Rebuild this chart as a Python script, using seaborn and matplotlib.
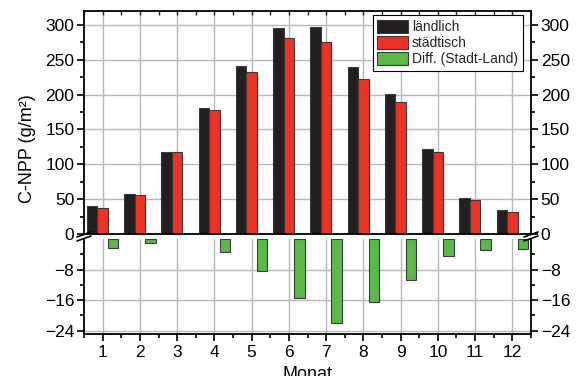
import numpy as np
import pandas as pd
import matplotlib
matplotlib.use("Agg")
import matplotlib.pyplot as plt
from matplotlib.patches import Patch
from matplotlib.lines import Line2D
from matplotlib.ticker import MultipleLocator, FixedLocator
import seaborn as sns

# Monthly carbon net primary production (g/m²)
months = [1, 2, 3, 4, 5, 6, 7, 8, 9, 10, 11, 12]
laendlich = [40.5, 58, 117, 181.5, 240.5, 296, 297, 239, 201, 122.5, 52, 35]
staedtisch = [38, 56, 117, 178, 232, 281, 275, 223, 190, 117, 49, 32]
# no measurable difference in March
differenz = [-2.3, -1.1, np.nan, -3.4, -8.3, -15.5, -21.9, -16.4, -10.7, -4.5, -2.9, -2.7]

series = ["ländlich", "städtisch", "Diff. (Stadt-Land)"]
colors = ["#231f20", "#ed3124", "#5bb947"]
edge = "#3a3a3a"

sns.set_theme(style="white")
plt.rcParams["font.family"] = ["Liberation Sans", "DejaVu Sans"]
plt.rcParams["axes.edgecolor"] = "black"

df = pd.DataFrame({
    "Monat": months * 3,
    "Serie": np.repeat(series, len(months)),
    "Wert": laendlich + staedtisch + differenz,
})
top_df = df[df["Serie"] != series[2]]
bot_df = df[df["Serie"] == series[2]]

fig = plt.figure(figsize=(5.88, 3.76), dpi=100)
ax_top = fig.add_axes([0.14286, 0.37766, 0.76020, 0.59309])
ax_bot = fig.add_axes([0.14286, 0.11170, 0.76020, 0.25266])

bar_kw = dict(x="Monat", y="Wert", hue="Serie", hue_order=series,
              palette=colors, width=0.84, gap=0, dodge=True, errorbar=None,
              edgecolor=edge, linewidth=0.8, saturation=1, legend=False)
sns.barplot(data=top_df, ax=ax_top, **bar_kw)
sns.barplot(data=bot_df, ax=ax_bot, **bar_kw)

grid_color = "#b8b8b8"
tick_fs = 12.5
for ax in (ax_top, ax_bot):
    ax.set_xlim(-0.5, len(months) - 0.5)
    ax.set_axisbelow(True)
    ax.grid(True, which="major", color=grid_color, linewidth=1.0)
    ax.set_xlabel("")
    ax.set_ylabel("")
    for s in ax.spines.values():
        s.set_linewidth(1.3)
        s.set_color("black")
    ax.xaxis.set_minor_locator(FixedLocator(np.arange(-0.5, len(months), 1.0)))
    ax.tick_params(axis="y", which="both", left=True, right=True,
                   labelleft=True, labelright=True, direction="out",
                   width=1.2, labelsize=tick_fs, colors="black", pad=2)
    ax.tick_params(axis="y", which="major", length=5)
    ax.tick_params(axis="y", which="minor", length=3)

# upper panel: absolute values
ax_top.set_ylim(0, 320)
ax_top.yaxis.set_major_locator(MultipleLocator(50))
ax_top.yaxis.set_minor_locator(MultipleLocator(25))
ax_top.tick_params(axis="x", which="both", bottom=False, labelbottom=False,
                   top=True, direction="in", width=1.0)
ax_top.tick_params(axis="x", which="major", length=3)
ax_top.tick_params(axis="x", which="minor", length=3)

# lower panel: difference
ax_bot.set_ylim(-24.9, 0)
ax_bot.set_yticks([-24, -16, -8])
ax_bot.yaxis.set_minor_locator(FixedLocator([-20, -12, -4]))
ax_bot.spines["top"].set_visible(False)
ax_bot.set_xticks(range(len(months)))
ax_bot.set_xticklabels([str(m) for m in months])
ax_bot.tick_params(axis="x", which="both", bottom=True, top=False,
                   direction="out", width=1.2, labelsize=tick_fs,
                   colors="black", pad=3)
ax_bot.tick_params(axis="x", which="major", length=5)
ax_bot.tick_params(axis="x", which="minor", length=3)

# axis break marks on both sides
W, H = 588.0, 376.0
for xc in (84.0, 531.0):
    for yc in (234.5, 238.5):
        fig.add_artist(Line2D([(xc - 7) / W, (xc + 7) / W],
                              [1 - (yc + 2.5) / H, 1 - (yc - 2.5) / H],
                              color="black", linewidth=1.2,
                              transform=fig.transFigure))

# legend
handles = [Patch(facecolor=c, edgecolor=edge, linewidth=0.8, label=s)
           for c, s in zip(colors, series)]
leg = ax_top.legend(handles=handles, loc="upper right",
                    bbox_to_anchor=(0.982, 0.982), borderaxespad=0,
                    fontsize=10, frameon=True, fancybox=False,
                    edgecolor="black", framealpha=1, handlelength=2.2,
                    handleheight=1.1, labelspacing=0.12, handletextpad=0.3,
                    borderpad=0.35)
leg.get_frame().set_linewidth(0.8)

fig.text(27.5 / W, 1 - 149 / H, "C-NPP (g/m²)", rotation=90,
         ha="center", va="center", fontsize=13, color="black")
fig.text(307.5 / W, 1 - 366 / H, "Monat", ha="center", va="top",
         fontsize=13, color="black")

fig.savefig("out.png", dpi=100)
